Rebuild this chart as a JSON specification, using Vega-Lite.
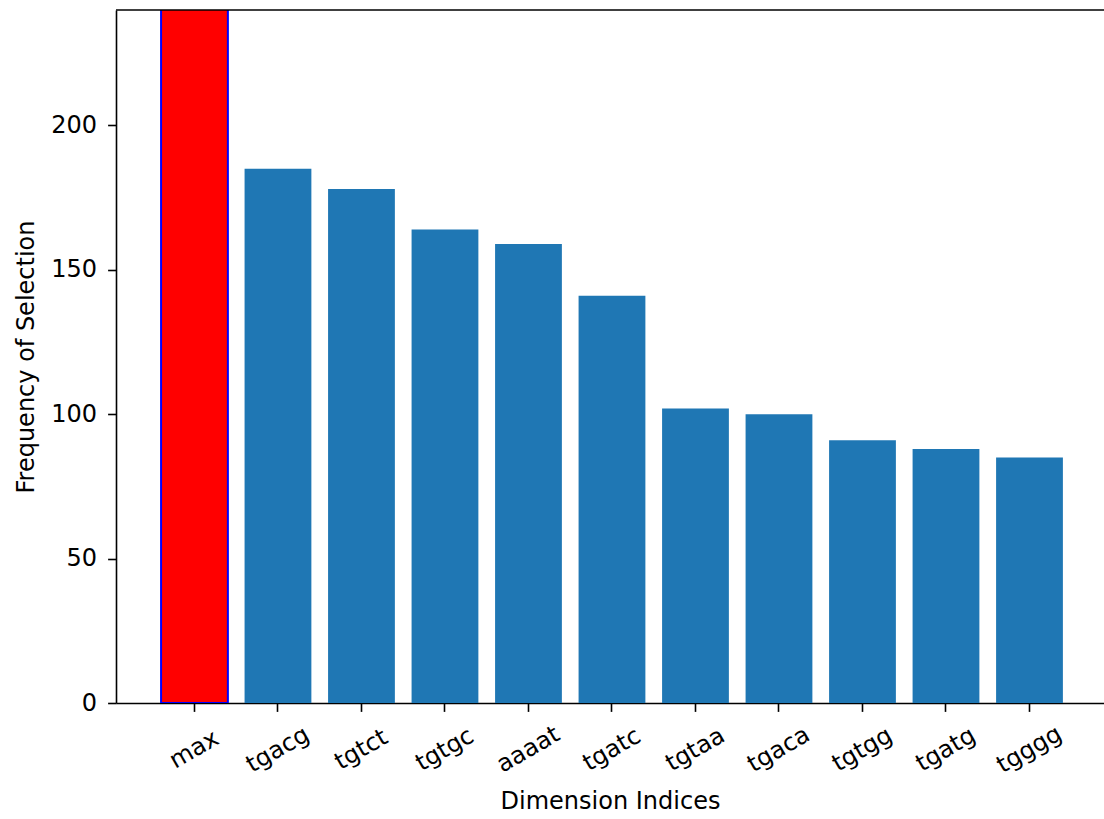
{
  "$schema": "https://vega.github.io/schema/vega-lite/v6.json",
  "autosize": "none",
  "padding": {"left": 116, "top": 10, "right": 0, "bottom": 116},
  "width": 988,
  "height": 693,
  "background": "white",
  "config": {
    "view": {"stroke": null},
    "font": "DejaVu Sans",
    "axis": {
      "labelFont": "DejaVu Sans",
      "titleFont": "DejaVu Sans",
      "labelFontSize": 24,
      "titleFontSize": 24,
      "titleFontWeight": "normal",
      "labelColor": "#000000",
      "titleColor": "#000000",
      "domainColor": "black",
      "tickColor": "black",
      "domainWidth": 1.6,
      "tickWidth": 1.6,
      "tickSize": 8.4,
      "grid": false
    }
  },
  "layer": [
    {
      "data": {
        "values": [
          {"dim": "max", "freq": 260, "type": "max"},
          {"dim": "tgacg", "freq": 185, "type": "other"},
          {"dim": "tgtct", "freq": 178, "type": "other"},
          {"dim": "tgtgc", "freq": 164, "type": "other"},
          {"dim": "aaaat", "freq": 159, "type": "other"},
          {"dim": "tgatc", "freq": 141, "type": "other"},
          {"dim": "tgtaa", "freq": 102, "type": "other"},
          {"dim": "tgaca", "freq": 100, "type": "other"},
          {"dim": "tgtgg", "freq": 91, "type": "other"},
          {"dim": "tgatg", "freq": 88, "type": "other"},
          {"dim": "tgggg", "freq": 85, "type": "other"}
        ]
      },
      "mark": {"type": "bar", "clip": true},
      "encoding": {
        "x": {
          "field": "dim",
          "type": "nominal",
          "sort": null,
          "scale": {"paddingInner": 0.2, "paddingOuter": 0.516, "align": 0.523},
          "axis": {
            "title": "Dimension Indices",
            "labelAngle": -30,
            "labelAlign": "center",
            "labelBaseline": "middle",
            "labelPadding": 38,
            "titlePadding": 12,
            "domain": true
          }
        },
        "y": {
          "field": "freq",
          "type": "quantitative",
          "scale": {"domain": [0, 240], "nice": false, "zero": true},
          "axis": {
            "title": "Frequency of Selection",
            "values": [0, 50, 100, 150, 200],
            "labelPadding": 11,
            "titlePadding": 12,
            "domain": true
          }
        },
        "color": {
          "field": "type",
          "type": "nominal",
          "scale": {"domain": ["max", "other"], "range": ["#ff0000", "#1f77b4"]},
          "legend": null
        },
        "stroke": {
          "field": "type",
          "type": "nominal",
          "scale": {"domain": ["max", "other"], "range": ["#0000ff", "#1f77b4"]},
          "legend": null
        },
        "strokeWidth": {
          "field": "type",
          "type": "nominal",
          "scale": {"domain": ["max", "other"], "range": [2, 0]},
          "legend": null
        }
      }
    },
    {
      "data": {"values": [{"top": 240}]},
      "mark": {"type": "rule", "color": "black", "strokeWidth": 1.6},
      "encoding": {
        "y": {"field": "top", "type": "quantitative"}
      }
    }
  ]
}
